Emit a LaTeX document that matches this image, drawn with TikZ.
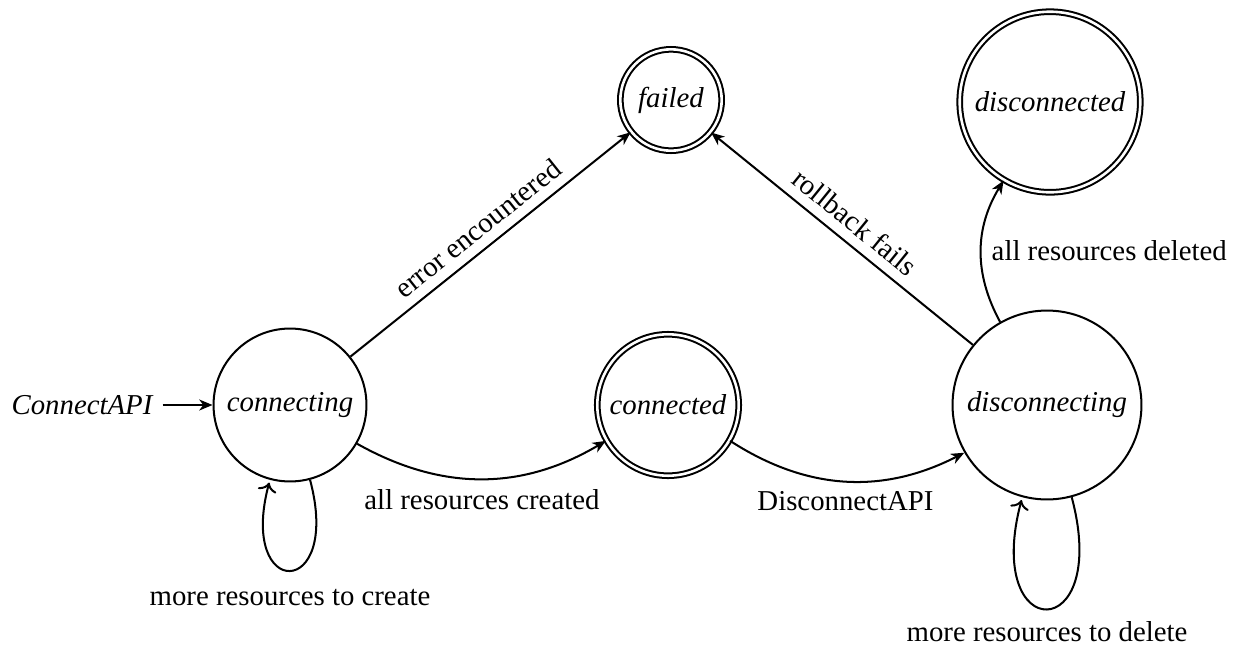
\documentclass[tikz,border=0pt]{standalone}
\usepackage{fontspec}
\setmainfont{Liberation Serif}
\usetikzlibrary{arrows.meta}
\begin{document}
\begin{tikzpicture}[x=0.3472pt,y=-0.3472pt,
  font=\fontsize{10pt}{12pt}\selectfont,
  state/.style={circle,draw,line width=0.7pt,inner sep=0pt,font=\fontsize{10pt}{12pt}\selectfont\itshape},
  final/.style={state,double,double distance=0.9pt},
  tr/.style={-{Stealth[length=4.6pt,width=3.8pt,inset=1.4pt]},line width=0.7pt},
  looplabel/.style={below,yshift=-3pt}]
\useasboundingbox (0,0) rectangle (1238,647);
\node[state,minimum size=53.1pt] (cing) at (290,405) {connecting};
\node[final,minimum size=49.1pt] (cted) at (668,405) {connected};
\node[final,minimum size=35.2pt] (failed) at (671,100) {failed};
\node[state,minimum size=65.6pt] (ding) at (1047,405) {disconnecting};
\node[final,minimum size=62.7pt] (dcted) at (1050,102) {disconnected};
\node (init) at (82,405) {\itshape ConnectAPI};

\draw[tr] (init) -- (cing);
\draw[tr] (cing) -- node[sloped,above] {error encountered} (failed);
\draw[tr] (ding) -- node[sloped,above] {rollback fails} (failed);
\draw[tr] (cing) to[bend right=30] node[below] {all resources created} (cted);
\draw[tr] (cted) to[bend right=30] node[below] {DisconnectAPI} (ding);
\draw[tr] (ding) to[bend left=30] node[right] {all resources deleted} (dcted);
\path (cing) edge[tr,loop below] node[looplabel] {more resources to create} (cing);
\path (ding) edge[tr,loop below] node[looplabel,yshift=2.2pt] {more resources to delete} (ding);
\end{tikzpicture}
\end{document}
